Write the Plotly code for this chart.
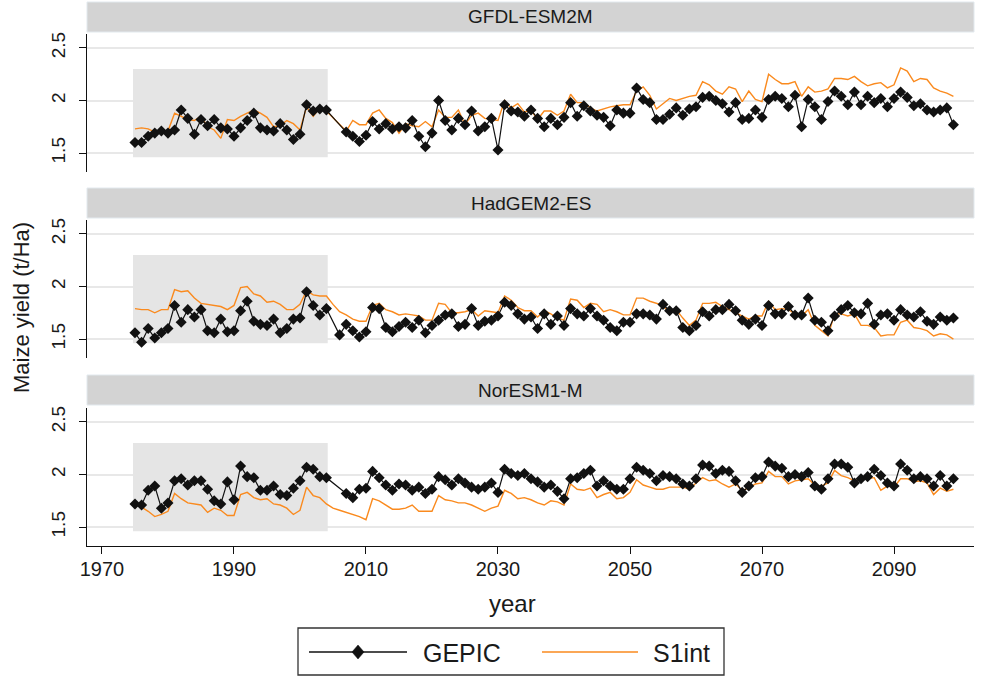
import plotly.graph_objects as go

# ---------------------------------------------------------------------------
# Data: maize yield (t/Ha) per year, 1975-2099, for three climate models
# ---------------------------------------------------------------------------
years = list(range(1975, 2100))
models = ["GFDL-ESM2M", "HadGEM2-ES", "NorESM1-M"]

gepic_gfdl = [
    1.60, 1.60, 1.66, 1.69, 1.71, 1.69, 1.72, 1.91, 1.83, 1.68,
    1.82, 1.76, 1.82, 1.74, 1.73, 1.66, 1.74, 1.81, 1.88, 1.74,
    1.72, 1.71, 1.78, 1.72, 1.63, 1.68, 1.96, 1.90, 1.92, 1.91,
    None, None,
    1.70, 1.66, 1.61, 1.67, 1.80, 1.73, 1.78, 1.73, 1.75, 1.74,
    1.81, 1.66, 1.56, 1.69, 2.00, 1.81, 1.72, 1.83, 1.77, 1.90, 1.71, 1.75, 1.83, 1.53,
    1.96, 1.90, 1.89, 1.85, 1.91, 1.83, 1.75, 1.83, 1.77, 1.84,
    1.98, 1.85, 1.95, 1.90, 1.86, 1.84, 1.76, 1.91, 1.88, 1.88,
    2.12, 2.01, 1.98, 1.82, 1.82, 1.87, 1.93, 1.86, 1.92, 1.94,
    2.03, 2.04, 2.00, 1.97, 1.89, 1.98, 1.82, 1.83, 1.91, 1.84,
    2.01, 2.04, 2.02, 1.94, 2.05, 1.75, 2.01, 1.94, 1.82, 1.99,
    2.09, 2.04, 1.96, 2.08, 1.96, 2.04, 1.98, 2.02, 1.94, 2.02,
    2.08, 2.03, 1.95, 1.97, 1.91, 1.89, 1.91, 1.93, 1.77,
]
s1int_gfdl = [
    1.73, 1.74, 1.73, 1.70, 1.70, 1.71, 1.88, 1.85, 1.82, 1.81,
    1.85, 1.75, 1.72, 1.64, 1.82, 1.81, 1.85, 1.88, 1.91, 1.88,
    1.84, 1.75, 1.76, 1.81, 1.78, 1.72, 1.94, 1.85, 1.93, 1.90,
    None, None,
    1.71, 1.81, 1.77, 1.77, 1.88, 1.91, 1.83, 1.79, 1.69, 1.78,
    1.76, 1.75, 1.80, 1.75, 1.91, 1.84, 1.84, 1.91, 1.77, 1.86, 1.88, 1.83, 1.82, 1.81,
    2.00, 1.93, 1.97, 1.89, 1.91, 1.82, 1.90, 1.90, 1.86, 1.90,
    2.06, 1.98, 1.98, 1.93, 1.90, 1.92, 1.94, 1.95, 1.96, 1.96,
    2.09, 2.13, 2.05, 1.92, 1.97, 2.02, 2.00, 2.02, 2.04, 2.05,
    2.18, 2.15, 2.09, 2.06, 2.13, 2.11, 1.99, 2.09, 2.01, 1.99,
    2.25, 2.20, 2.16, 2.16, 2.18, 2.04, 2.13, 2.08, 2.09, 2.11,
    2.21, 2.21, 2.20, 2.23, 2.18, 2.14, 2.16, 2.17, 2.12, 2.15,
    2.31, 2.28, 2.18, 2.21, 2.20, 2.12, 2.09, 2.07, 2.04,
]
gepic_hadgem = [
    1.56, 1.47, 1.60, 1.51, 1.56, 1.60, 1.82, 1.66, 1.78, 1.71,
    1.78, 1.58, 1.56, 1.69, 1.57, 1.58, 1.77, 1.86, 1.67, 1.64,
    1.63, 1.69, 1.56, 1.60, 1.69, 1.70, 1.95, 1.82, 1.73, 1.79,
    None,
    1.54, 1.64, 1.58, 1.52, 1.57, 1.80, 1.79, 1.61, 1.57, 1.62, 1.66,
    1.61, 1.68, 1.56, 1.63, 1.68, 1.73, 1.74, 1.62, 1.64, 1.79, 1.63, 1.67, 1.68, 1.72,
    1.85, 1.82, 1.74, 1.69, 1.71, 1.60, 1.74, 1.64, 1.72, 1.63,
    1.79, 1.74, 1.72, 1.79, 1.72, 1.68, 1.61, 1.58, 1.66, 1.66,
    1.74, 1.74, 1.73, 1.69, 1.83, 1.77, 1.77, 1.61, 1.58, 1.63,
    1.76, 1.72, 1.78, 1.78, 1.83, 1.77, 1.68, 1.64, 1.69, 1.63,
    1.82, 1.74, 1.74, 1.81, 1.73, 1.73, 1.89, 1.68, 1.66, 1.58,
    1.72, 1.78, 1.82, 1.75, 1.74, 1.84, 1.64, 1.73, 1.74, 1.68,
    1.78, 1.73, 1.71, 1.76, 1.67, 1.64, 1.71, 1.68, 1.70,
]
s1int_hadgem = [
    1.79, 1.78, 1.78, 1.75, 1.78, 1.78, 1.97, 1.95, 1.96, 1.89,
    1.84, 1.83, 1.82, 1.81, 1.78, 1.82, 1.99, 2.00, 1.93, 1.91,
    1.85, 1.86, 1.83, 1.78, 1.78, 1.83, 1.96, 1.92, 1.91, 1.91,
    1.83, 1.76, 1.73, 1.69, 1.67, 1.67, 1.82, 1.84, 1.78, 1.76, 1.73, 1.74,
    1.73, 1.72, 1.68, 1.68, 1.84, 1.83, 1.75, 1.75, 1.76, 1.78, 1.72, 1.77, 1.76, 1.75,
    1.91, 1.87, 1.80, 1.77, 1.77, 1.71, 1.77, 1.74, 1.70, 1.68,
    1.88, 1.87, 1.80, 1.84, 1.83, 1.76, 1.78, 1.76, 1.73, 1.73,
    1.89, 1.89, 1.86, 1.84, 1.82, 1.75, 1.78, 1.70, 1.63, 1.68,
    1.84, 1.84, 1.85, 1.81, 1.78, 1.75, 1.72, 1.69, 1.72, 1.72,
    1.86, 1.78, 1.79, 1.78, 1.74, 1.72, 1.78, 1.63, 1.58, 1.53,
    1.74, 1.74, 1.72, 1.74, 1.63, 1.63, 1.61, 1.53, 1.54, 1.54,
    1.66, 1.68, 1.61, 1.60, 1.58, 1.53, 1.55, 1.54, 1.50,
]
gepic_noresm = [
    1.72, 1.71, 1.85, 1.89, 1.68, 1.73, 1.94, 1.96, 1.90, 1.94,
    1.94, 1.86, 1.75, 1.72, 1.93, 1.76, 2.08, 1.98, 1.97, 1.85,
    1.85, 1.89, 1.81, 1.80, 1.87, 1.94, 2.07, 2.05, 1.98, 1.97,
    None, None,
    1.82, 1.78, 1.86, 1.87, 2.03, 1.97, 1.90, 1.85, 1.91, 1.90,
    1.85, 1.88, 1.82, 1.86, 1.98, 1.95, 1.90, 1.96, 1.92, 1.88, 1.86, 1.88, 1.92, 1.83,
    2.05, 2.01, 1.99, 2.01, 1.96, 1.93, 1.88, 1.90, 1.84, 1.77,
    1.96, 1.97, 2.01, 2.04, 1.89, 1.94, 1.89, 1.86, 1.86, 1.96,
    2.07, 2.04, 2.01, 1.94, 1.99, 1.98, 1.96, 1.91, 1.89, 1.96,
    2.09, 2.08, 2.01, 2.04, 2.03, 1.94, 1.83, 1.89, 1.97, 1.98,
    2.12, 2.08, 2.06, 1.98, 2.00, 1.98, 2.02, 1.89, 1.86, 1.96,
    2.10, 2.10, 2.07, 1.92, 1.96, 1.98, 2.05, 1.99, 1.92, 1.89,
    2.10, 2.04, 1.96, 1.98, 1.96, 1.89, 1.99, 1.89, 1.96,
]
s1int_noresm = [
    1.72, 1.69, 1.65, 1.60, 1.62, 1.65, 1.82, 1.77, 1.73, 1.72,
    1.71, 1.64, 1.68, 1.66, 1.61, 1.61, 1.81, 1.83, 1.78, 1.76,
    1.77, 1.72, 1.71, 1.68, 1.62, 1.66, 1.88, 1.80, 1.78, 1.72,
    1.68, 1.66, 1.64, 1.62, 1.60, 1.57, 1.77, 1.75, 1.71, 1.67, 1.67, 1.68,
    1.71, 1.65, 1.65, 1.65, 1.80, 1.76, 1.75, 1.73, 1.73, 1.71, 1.68, 1.65, 1.68, 1.70,
    1.85, 1.82, 1.77, 1.78, 1.76, 1.73, 1.71, 1.75, 1.74, 1.71,
    1.91, 1.86, 1.85, 1.87, 1.78, 1.81, 1.83, 1.77, 1.78, 1.83,
    1.95, 1.90, 1.88, 1.86, 1.86, 1.88, 1.88, 1.88, 1.86, 1.92,
    1.97, 1.94, 1.95, 1.91, 1.88, 1.91, 1.85, 1.87, 1.91, 1.92,
    2.03, 1.98, 1.98, 1.91, 1.94, 1.95, 1.96, 1.90, 1.89, 1.92,
    2.04, 1.99, 1.97, 1.94, 1.96, 1.96, 1.97, 1.85, 1.89, 1.88,
    1.96, 1.96, 1.93, 1.94, 1.92, 1.81, 1.87, 1.84, 1.86,
]

gepic_series = [gepic_gfdl, gepic_hadgem, gepic_noresm]
s1int_series = [s1int_gfdl, s1int_hadgem, s1int_noresm]

# Historical reference period highlighted in every panel
ref_period = (1974.7, 2004.2)
ref_band = (1.46, 2.30)

x_ticks = [1970, 1990, 2010, 2030, 2050, 2070, 2090]
y_ticks = [1.5, 2, 2.5]
y_tick_text = ["1.5", "2", "2.5"]

# ---------------------------------------------------------------------------
# Layout geometry (pixels)
# ---------------------------------------------------------------------------
W, H = 981, 677
X_LEFT, X_RIGHT = 87, 974
PANELS = [(34, 172), (220, 358), (408, 546)]
STRIPS = [(2, 32), (188, 218), (375, 405)]
X_RANGE = [1967.73, 2102.12]
Y_RANGE = [1.32, 2.633]

FONT = "Liberation Sans, Arial, sans-serif"
TXT = "#1a1a1a"
BLACK = "#111111"
ORANGE = "#fa8a1e"
GRID = "#e8e8e8"


def fx(p):
    return p / W


def fy(p):
    return 1 - p / H


fig = go.Figure()
shapes = []
annotations = []
layout_axes = {}

for i, model in enumerate(models):
    n = i + 1
    xa = "x" if n == 1 else f"x{n}"
    ya = "y" if n == 1 else f"y{n}"
    top, bottom = PANELS[i]
    is_bottom = n == len(models)

    fig.add_trace(go.Scatter(
        x=years, y=s1int_series[i], xaxis=xa, yaxis=ya, mode="lines",
        line=dict(color=ORANGE, width=1.4), connectgaps=True,
        showlegend=False, name="S1int",
    ))
    fig.add_trace(go.Scatter(
        x=years, y=gepic_series[i], xaxis=xa, yaxis=ya, mode="lines+markers",
        line=dict(color=BLACK, width=1.2), connectgaps=True,
        marker=dict(symbol="diamond", size=8.5, color=BLACK),
        showlegend=False, name="GEPIC",
    ))

    xkey = "xaxis" if n == 1 else f"xaxis{n}"
    ykey = "yaxis" if n == 1 else f"yaxis{n}"
    layout_axes[xkey] = dict(
        domain=[fx(X_LEFT), fx(X_RIGHT)], range=X_RANGE, anchor=ya,
        automargin=False,
        showgrid=False, zeroline=False,
        showline=is_bottom, linecolor=BLACK, linewidth=1.3,
        ticks="outside" if is_bottom else "", ticklen=7, tickcolor=BLACK,
        tickvals=x_ticks, showticklabels=is_bottom,
        tickfont=dict(family=FONT, size=20, color=TXT),
        ticklabelstandoff=-2,
    )
    layout_axes[ykey] = dict(
        domain=[fy(bottom), fy(top)], range=Y_RANGE, anchor=xa,
        automargin=False,
        showgrid=True, gridcolor=GRID, gridwidth=1.5, zeroline=False,
        showline=True, linecolor=BLACK, linewidth=1.3,
        ticks="outside", ticklen=7, tickcolor=BLACK,
        tickvals=y_ticks, ticktext=y_tick_text, tickangle=-90,
        tickfont=dict(family=FONT, size=19, color=TXT),
        ticklabelstandoff=6,
    )

    # reference-period band
    shapes.append(dict(
        type="rect", xref=xa, yref=ya, layer="between",
        x0=ref_period[0], x1=ref_period[1], y0=ref_band[0], y1=ref_band[1],
        fillcolor="#e5e5e5", line=dict(width=0),
    ))
    # facet strip with model name
    s0, s1 = STRIPS[i]
    shapes.append(dict(
        type="rect", xref="paper", yref="paper",
        x0=fx(X_LEFT), x1=fx(X_RIGHT), y0=fy(s1), y1=fy(s0),
        fillcolor="#d3d3d3", line=dict(color="#e2e9ee", width=1),
    ))
    annotations.append(dict(
        text=model, xref="paper", yref="paper",
        x=fx((X_LEFT + X_RIGHT) / 2), y=fy((s0 + s1) / 2),
        xanchor="center", yanchor="middle", showarrow=False,
        font=dict(family=FONT, size=19, color=TXT),
    ))

# axis titles
annotations.append(dict(
    text="Maize yield (t/Ha)", xref="paper", yref="paper",
    x=fx(21), y=fy(308), xanchor="center", yanchor="middle",
    textangle=-90, showarrow=False,
    font=dict(family=FONT, size=22, color=TXT),
))
annotations.append(dict(
    text="year", xref="paper", yref="paper",
    x=fx(512), y=fy(603), xanchor="center", yanchor="middle",
    showarrow=False, font=dict(family=FONT, size=24, color=TXT),
))

# legend box
LEG_Y = 652
shapes.append(dict(
    type="rect", xref="paper", yref="paper",
    x0=fx(298), x1=fx(724), y0=fy(675), y1=fy(628),
    line=dict(color="#333333", width=1.3), fillcolor="white",
))
shapes.append(dict(
    type="line", xref="paper", yref="paper",
    x0=fx(309), x1=fx(407), y0=fy(LEG_Y), y1=fy(LEG_Y),
    line=dict(color=BLACK, width=1.6),
))
cx = 358
shapes.append(dict(
    type="path", xref="paper", yref="paper",
    path=(f"M {fx(cx)},{fy(LEG_Y - 7)} L {fx(cx + 6)},{fy(LEG_Y)} "
          f"L {fx(cx)},{fy(LEG_Y + 7)} L {fx(cx - 6)},{fy(LEG_Y)} Z"),
    fillcolor=BLACK, line=dict(color=BLACK, width=0.5),
))
shapes.append(dict(
    type="line", xref="paper", yref="paper",
    x0=fx(542), x1=fx(638), y0=fy(LEG_Y), y1=fy(LEG_Y),
    line=dict(color=ORANGE, width=1.6),
))
annotations.append(dict(
    text="GEPIC", xref="paper", yref="paper", x=fx(421), y=fy(LEG_Y + 1),
    xanchor="left", yanchor="middle", showarrow=False,
    font=dict(family=FONT, size=25, color=TXT),
))
annotations.append(dict(
    text="S1int", xref="paper", yref="paper", x=fx(651), y=fy(LEG_Y + 1),
    xanchor="left", yanchor="middle", showarrow=False,
    font=dict(family=FONT, size=25, color=TXT),
))

fig.update_layout(
    width=W, height=H,
    margin=dict(l=0, r=0, t=0, b=0, autoexpand=False),
    paper_bgcolor="white", plot_bgcolor="white",
    showlegend=False,
    shapes=shapes, annotations=annotations,
    **layout_axes,
)

fig.write_html("out.html")
